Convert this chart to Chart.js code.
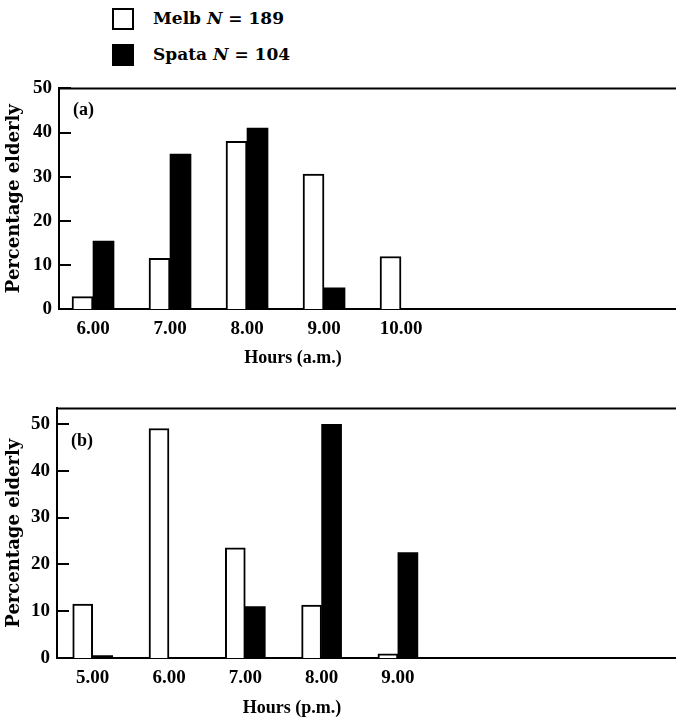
<!DOCTYPE html>
<html>
<head>
<meta charset="utf-8">
<script src="https://cdn.jsdelivr.net/npm/chart.js@4"></script>
<style>
  body { margin: 0; width: 676px; height: 722px; background: #fff; position: relative; overflow: hidden; }
  canvas { position: absolute; left: 0; }
  #grafico-am { top: 70px; }
  #grafico-pm { top: 390px; }
  .fila { position: absolute; left: 112px; height: 22px; line-height: 22px; font: bold 17px "DejaVu Serif", serif; color: #000; white-space: nowrap; }
  .caja { display: inline-block; width: 18px; height: 18px; border: 2px solid #000; vertical-align: top; margin-right: 19px; }
</style>
</head>
<body>
<div class="fila" style="top:8px"><span class="caja" style="background:#fff"></span>Melb <i>N</i> = 189</div>
<div class="fila" style="top:44px"><span class="caja" style="background:#000"></span>Spata <i>N</i> = 104</div>
<canvas id="grafico-am" width="676" height="300"></canvas>
<canvas id="grafico-pm" width="676" height="332"></canvas>
<script>
/* Datos */
var horasAm = ['6.00', '7.00', '8.00', '9.00', '10.00'];
var melbAm = [2.8, 11.5, 38, 30.6, 11.9];
var spataAm = [15.4, 35.1, 41, 4.8, 0];

var horasPm = ['5.00', '6.00', '7.00', '8.00', '9.00'];
var melbPm = [11.5, 49, 23.5, 11.3, 0.9];
var spataPm = [0.5, 0, 11, 49.9, 22.5];

var marcasY = [0, 10, 20, 30, 40, 50];

var letra = 'Liberation Serif';

/* Marco superior, marcas hacia dentro, rotulo (a)/(b) y titulo del eje x */
var adornos = {
    id: 'adornos',
    afterDraw: function (chart, args, o) {
        var ctx = chart.ctx, area = chart.chartArea, y = chart.scales.y;
        ctx.save();
        ctx.strokeStyle = '#000';
        ctx.lineWidth = 2;
        ctx.beginPath();
        ctx.moveTo(area.left - 1, area.top);
        ctx.lineTo(area.right, area.top);
        marcasY.forEach(function (v) {
            var py = Math.round(y.getPixelForValue(v));
            ctx.moveTo(area.left, py);
            ctx.lineTo(area.left + 12, py);
        });
        ctx.stroke();
        ctx.fillStyle = '#000';
        ctx.textBaseline = 'middle';
        ctx.font = 'bold 18px "' + letra + '"';
        ctx.fillText(o.rotulo, area.left + 14, area.top + o.dy);
        ctx.textAlign = 'center';
        ctx.fillText(o.titulo, o.tituloX, o.tituloY);
        ctx.restore();
    }
};

function crearGrafico(id, horas, melb, spata, c) {
    var marco = document.getElementById(id).getContext('2d');
    return new Chart(marco, {
        type: 'bar',
        data: {
            datasets: [{
                label: 'Melb',
                data: melb.map(function (v, i) { return { x: i, y: v }; }),
                backgroundColor: '#fff',
                borderColor: '#000',
                borderWidth: 2,
                barThickness: c.grosor
            }, {
                label: 'Spata',
                data: spata.map(function (v, i) { return { x: i, y: v }; }),
                backgroundColor: '#000',
                borderWidth: 0,
                barThickness: c.grosor
            }]
        },
        options: {
            responsive: false,
            animation: false,
            layout: { padding: { top: c.arriba, left: 0, right: 0, bottom: 0 } },
            plugins: {
                legend: { display: false },
                tooltip: { enabled: false },
                adornos: { rotulo: c.rotulo, dy: c.dy, titulo: c.titulo, tituloX: c.tituloX, tituloY: c.tituloY }
            },
            scales: {
                x: {
                    type: 'linear',
                    position: 'bottom',
                    min: c.xMin,
                    max: c.xMax,
                    offset: false,
                    grid: { display: false, drawTicks: false },
                    border: { color: '#000', width: 2 },
                    afterBuildTicks: function (s) { s.ticks = horas.map(function (h, i) { return { value: i }; }); },
                    afterFit: function (s) { s.height = c.altoX; },
                    ticks: {
                        color: '#000',
                        padding: 9,
                        font: { family: letra, size: 19, weight: 'bold' },
                        callback: function (v) { return horas[v]; }
                    }
                },
                y: {
                    min: 0,
                    max: c.yMax,
                    afterBuildTicks: function (s) { s.ticks = marcasY.map(function (v) { return { value: v }; }); },
                    afterFit: function (s) { s.width = c.izquierda; },
                    grid: { display: false, drawTicks: false },
                    border: { color: '#000', width: 2 },
                    ticks: {
                        color: '#000',
                        padding: 7,
                        font: { family: letra, size: 19, weight: 'bold' }
                    },
                    title: {
                        display: true,
                        text: 'Percentage elderly',
                        color: '#000',
                        font: { family: 'DejaVu Serif', size: 18, weight: 'bold' },
                        padding: { top: 4, bottom: 0 }
                    }
                }
            }
        },
        plugins: [adornos]
    });
}

crearGrafico('grafico-am', horasAm, melbAm, spataAm, {
    xMin: -0.4416, xMax: 7.571, yMax: 50, grosor: 21,
    izquierda: 59, arriba: 17, altoX: 61,
    titulo: 'Hours (a.m.)', tituloX: 293, tituloY: 288,
    rotulo: '(a)', dy: 22
});

crearGrafico('grafico-pm', horasPm, melbPm, spataPm, {
    xMin: -0.468, xMax: 7.645, yMax: 53.3, grosor: 20,
    izquierda: 57, arriba: 18, altoX: 64,
    titulo: 'Hours (p.m.)', tituloX: 292, tituloY: 318,
    rotulo: '(b)', dy: 33
});
</script>
</body>
</html>
